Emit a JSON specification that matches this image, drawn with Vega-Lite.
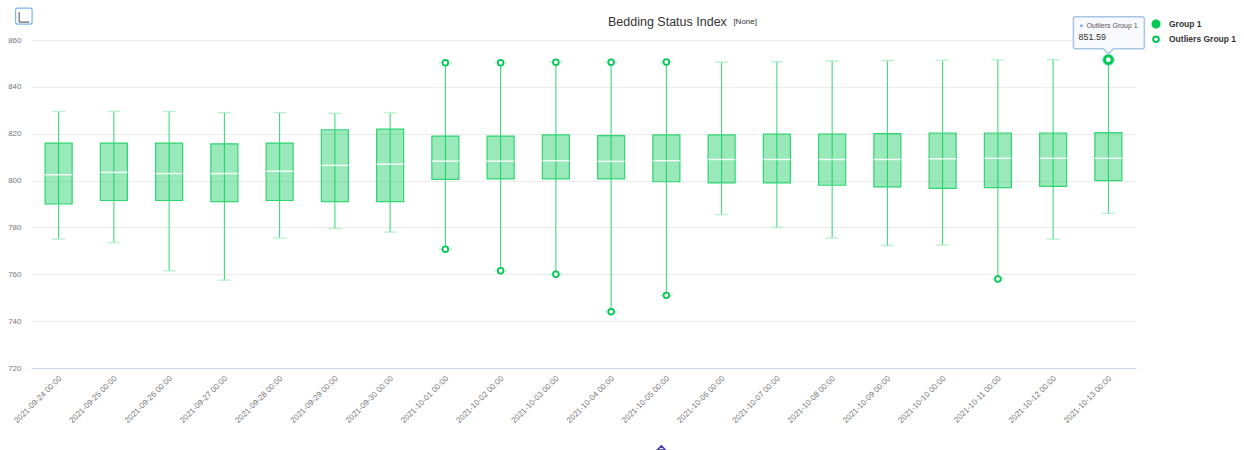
{"$schema":"https://vega.github.io/schema/vega-lite/v6.json","width":1105,"height":328,"autosize":{"type":"none"},"padding":{"left":31,"top":40,"right":108,"bottom":82},"background":"white",
"config":{"font":"Liberation Sans","view":{"stroke":null}},
"title":{"text":"Bedding Status Index","anchor":"start","frame":"group","dx":577,"dy":37,"offset":14,"fontSize":12.5,"fontWeight":"normal","color":"#333333"},
"datasets":{
"boxes":[
{"date":"2021-09-24 00:00","low":775,"q1":790,"median":802.5,"q3":816,"high":829.5},
{"date":"2021-09-25 00:00","low":773.5,"q1":791.5,"median":803.5,"q3":816,"high":829.5},
{"date":"2021-09-26 00:00","low":761.5,"q1":791.5,"median":803,"q3":816,"high":829.5},
{"date":"2021-09-27 00:00","low":757.5,"q1":791,"median":803,"q3":815.7,"high":829},
{"date":"2021-09-28 00:00","low":775.5,"q1":791.5,"median":804,"q3":816,"high":829},
{"date":"2021-09-29 00:00","low":779.5,"q1":791,"median":806.5,"q3":821.7,"high":828.7},
{"date":"2021-09-30 00:00","low":778,"q1":791,"median":807,"q3":822,"high":829},
{"date":"2021-10-01 00:00","low":770.7,"q1":800.5,"median":808.3,"q3":819,"high":850.3},
{"date":"2021-10-02 00:00","low":761.5,"q1":800.7,"median":808.3,"q3":819,"high":850.3},
{"date":"2021-10-03 00:00","low":760,"q1":800.7,"median":808.5,"q3":819.5,"high":850.5},
{"date":"2021-10-04 00:00","low":744,"q1":800.7,"median":808.2,"q3":819.2,"high":850.5},
{"date":"2021-10-05 00:00","low":751,"q1":799.5,"median":808.5,"q3":819.5,"high":850.6},
{"date":"2021-10-06 00:00","low":785.5,"q1":799,"median":809,"q3":819.5,"high":850.6},
{"date":"2021-10-07 00:00","low":780,"q1":799,"median":809,"q3":819.8,"high":850.7},
{"date":"2021-10-08 00:00","low":775.5,"q1":798,"median":809,"q3":819.8,"high":851},
{"date":"2021-10-09 00:00","low":772.3,"q1":797.3,"median":809,"q3":820,"high":851.3},
{"date":"2021-10-10 00:00","low":772.5,"q1":796.7,"median":809.3,"q3":820.3,"high":851.3},
{"date":"2021-10-11 00:00","low":758,"q1":797,"median":809.5,"q3":820.3,"high":851.5},
{"date":"2021-10-12 00:00","low":775,"q1":797.5,"median":809.5,"q3":820.3,"high":851.6},
{"date":"2021-10-13 00:00","low":786,"q1":800,"median":809.5,"q3":820.5,"high":851.59}],
"outliers":[
{"date":"2021-10-01 00:00","value":850.3,"series":"Outliers Group 1"},
{"date":"2021-10-01 00:00","value":770.7,"series":"Outliers Group 1"},
{"date":"2021-10-02 00:00","value":850.3,"series":"Outliers Group 1"},
{"date":"2021-10-02 00:00","value":761.5,"series":"Outliers Group 1"},
{"date":"2021-10-03 00:00","value":850.5,"series":"Outliers Group 1"},
{"date":"2021-10-03 00:00","value":760,"series":"Outliers Group 1"},
{"date":"2021-10-04 00:00","value":850.5,"series":"Outliers Group 1"},
{"date":"2021-10-04 00:00","value":744,"series":"Outliers Group 1"},
{"date":"2021-10-05 00:00","value":850.6,"series":"Outliers Group 1"},
{"date":"2021-10-05 00:00","value":751,"series":"Outliers Group 1"},
{"date":"2021-10-11 00:00","value":758,"series":"Outliers Group 1"}],
"tip":[{"date":"2021-10-13 00:00","value":851.59,"series":"Outliers Group 1","text":"851.59"}],
"tag":[{"date":"2021-10-05 00:00","value":867.7,"text":"[None]"}],
"icon":[{"date":"2021-09-24 00:00","value":870.2}],
"nav":[{"date":"2021-10-05 00:00","value":685.9}]
},
"encoding":{"x":{"field":"date","type":"ordinal","scale":{"paddingInner":0,"paddingOuter":0},"axis":{"title":null,"labelAngle":-45,"labelAlign":"right","labelBaseline":"middle","labelFontSize":8,"labelColor":"#777777","labelPadding":9,"labelOffset":2,"ticks":false,"domainColor":"#ccd6eb","domainWidth":1,"grid":false,"labelOverlap":false}}},
"layer":[
{"data":{"name":"boxes"},"mark":{"type":"rule","color":"#2fd672","strokeWidth":1},"encoding":{"y":{"field":"low","type":"quantitative","scale":{"domain":[720,860],"nice":false},"axis":{"title":null,"values":[720,740,760,780,800,820,840,860],"labelFontSize":8,"labelColor":"#777777","labelPadding":10,"ticks":false,"domain":false,"gridColor":"#ececec","gridWidth":1}},"y2":{"field":"high"}}},
{"data":{"name":"boxes"},"mark":{"type":"tick","color":"#a5eec0","size":13,"thickness":1.5,"orient":"horizontal"},"encoding":{"y":{"field":"low","type":"quantitative"}}},
{"data":{"name":"boxes"},"mark":{"type":"tick","color":"#a5eec0","size":13,"thickness":1.5,"orient":"horizontal"},"encoding":{"y":{"field":"high","type":"quantitative"}}},
{"data":{"name":"boxes"},"mark":{"type":"bar","size":27,"fill":"#00c853","fillOpacity":0.4,"stroke":"#2fd672","strokeWidth":1.2},"encoding":{"y":{"field":"q1","type":"quantitative"},"y2":{"field":"q3"}}},
{"data":{"name":"boxes"},"mark":{"type":"tick","color":"#ffffff","size":27,"thickness":1.5,"opacity":0.9,"orient":"horizontal"},"encoding":{"y":{"field":"median","type":"quantitative"}}},
{"data":{"name":"outliers"},"mark":{"type":"point","shape":"circle","filled":true,"stroke":"#00c853","strokeWidth":1.8,"opacity":1},"encoding":{"y":{"field":"value","type":"quantitative"},
"fill":{"field":"series","type":"nominal","scale":{"domain":["Group 1","Outliers Group 1"],"range":["#00c853","#ffffff"]},"legend":{"title":null,"orient":"none","legendX":1120,"legendY":-21,"labelFontSize":8.5,"labelFontWeight":"bold","labelColor":"#333333","symbolStrokeColor":"#00c853","symbolStrokeWidth":2,"symbolOpacity":1,"labelOffset":8,"rowPadding":0,"padding":0}},
"size":{"field":"series","type":"nominal","scale":{"domain":["Group 1","Outliers Group 1"],"range":[50,32]}}}},
{"data":{"name":"tip"},"mark":{"type":"point","shape":"circle","filled":true,"fill":"#7cb5ec","opacity":0.25,"size":200,"stroke":null},"encoding":{"y":{"field":"value","type":"quantitative"}}},
{"data":{"name":"tip"},"mark":{"type":"point","shape":"circle","filled":true,"fill":"#ffffff","stroke":"#00c853","strokeWidth":3,"opacity":1,"size":60},"encoding":{"y":{"field":"value","type":"quantitative"}}},
{"data":{"name":"tip"},"mark":{"type":"point","shape":"M-33,-43H34Q36,-43 36,-41V-13Q36,-11 34,-11H5L0,-6L-5,-11H-33Q-35,-11 -35,-13V-41Q-35,-43 -33,-43Z","size":4,"filled":true,"fill":"#f7f9fc","fillOpacity":0.92,"stroke":"#a9c6e8","strokeWidth":1.5,"opacity":1},"encoding":{"y":{"field":"value","type":"quantitative"}}},
{"data":{"name":"tip"},"mark":{"type":"point","shape":"circle","filled":true,"fill":"#7cb5ec","stroke":null,"opacity":1,"size":9,"xOffset":-27,"yOffset":-34},"encoding":{"y":{"field":"value","type":"quantitative"}}},
{"data":{"name":"tip"},"mark":{"type":"text","fontSize":7,"color":"#555555","align":"left","baseline":"middle","dx":-22,"dy":-34},"encoding":{"y":{"field":"value","type":"quantitative"},"text":{"field":"series"}}},
{"data":{"name":"tip"},"mark":{"type":"text","fontSize":9,"color":"#333333","align":"left","baseline":"middle","dx":-30,"dy":-23},"encoding":{"y":{"field":"value","type":"quantitative"},"text":{"field":"text"}}},
{"data":{"name":"tag"},"mark":{"type":"text","fontSize":8,"color":"#333333","align":"left","baseline":"middle","dx":67},"encoding":{"y":{"field":"value","type":"quantitative"},"text":{"field":"text"}}},
{"data":{"name":"icon"},"mark":{"type":"point","shape":"M-41,-8H-28.5Q-26.5,-8 -26.5,-6V6Q-26.5,8 -28.5,8H-41Q-43,8 -43,6V-6Q-43,-8 -41,-8Z","size":4,"filled":false,"stroke":"#7cb5ec","strokeWidth":1.2,"opacity":1},"encoding":{"y":{"field":"value","type":"quantitative"}}},
{"data":{"name":"icon"},"mark":{"type":"point","shape":"M-39.5,-4V6H-29.5","size":4,"filled":false,"stroke":"#444444","strokeWidth":1,"opacity":1},"encoding":{"y":{"field":"value","type":"quantitative"}}},
{"data":{"name":"nav"},"mark":{"type":"point","shape":"M-9,2L-5,-2L-1,2Z","size":4,"filled":false,"stroke":"#4b3bb0","strokeWidth":1.5,"opacity":1},"encoding":{"y":{"field":"value","type":"quantitative"}}}
]}
